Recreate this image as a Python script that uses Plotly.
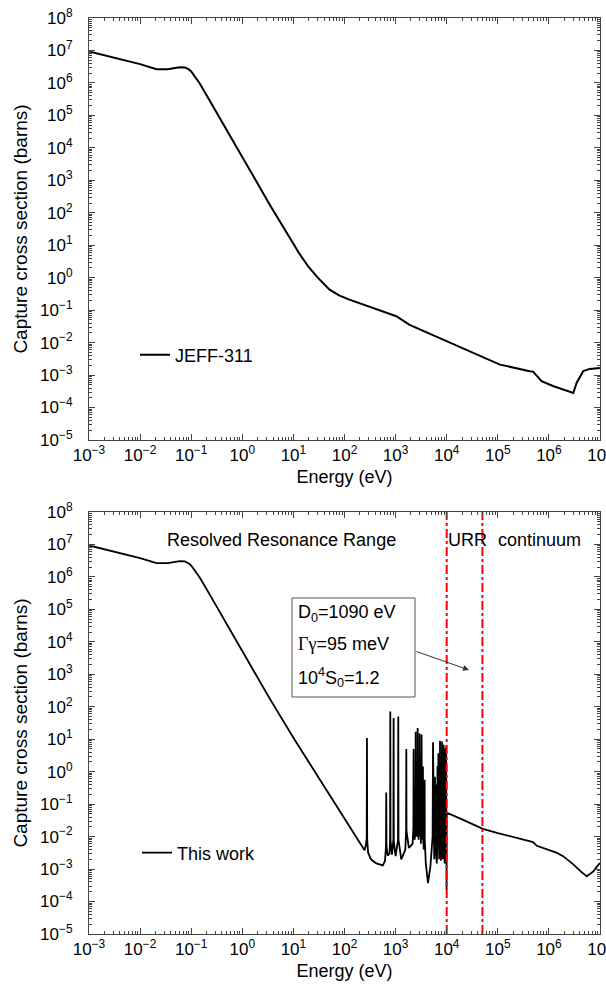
import plotly.graph_objects as go
from plotly.subplots import make_subplots

# ---------------- data ----------------
# JEFF-311 evaluated capture cross section (top panel)
E_jeff = [1e-3, 5e-3, 1e-2, 2.1e-2, 2.8e-2, 3.5e-2, 4.5e-2, 6e-2, 7.5e-2, 9e-2, 0.1, 0.12, 0.146, 0.2, 0.3, 0.5,
          1, 2, 3.4, 10, 13.1, 20, 30, 51, 65, 80, 125, 300, 1030, 1880, 9860,
          3.8e4, 1.1e5, 4.2e5, 4.9e5, 7.2e5, 1.2e6, 3e6, 3.5e6, 4.7e6, 6.3e6, 1e7]
xs_jeff = [9.3e6, 5.0e6, 3.8e6, 2.65e6, 2.6e6, 2.65e6, 2.85e6, 3.05e6, 3.0e6, 2.6e6, 2.25e6, 1.55e6, 9.8e5, 4.2e5, 1.38e5, 3.4e4,
           5e3, 7.6e2, 1.84e2, 11.1, 5.5, 2.1, 1.0, 0.43, 0.34, 0.28, 0.21, 0.13, 0.065, 0.035, 0.011,
           4.3e-3, 2.1e-3, 1.32e-3, 1.28e-3, 6.5e-4, 4.6e-4, 2.8e-4, 5.8e-4, 1.32e-3, 1.55e-3, 1.65e-3]

# This work: thermal / 1/v part
E_low = [1e-3, 5e-3, 1e-2, 2.1e-2, 2.8e-2, 3.5e-2, 4.5e-2, 6e-2, 7.5e-2, 9e-2, 0.1, 0.12, 0.146, 0.2, 0.3, 0.5,
         1, 2, 3.4, 10, 30, 100, 200, 247]
xs_low = [9.3e6, 5.0e6, 3.8e6, 2.65e6, 2.6e6, 2.65e6, 2.85e6, 3.05e6, 3.0e6, 2.6e6, 2.25e6, 1.55e6, 9.8e5, 4.2e5, 1.38e5, 3.4e4,
          5e3, 7.6e2, 1.84e2, 11.1, 0.70, 0.035, 6.4e-3, 3.8e-3]

# This work: resolved resonance range
E_rrr = [262, 272, 275, 278, 290, 330, 420, 564, 620, 648, 656, 664, 700, 760,
         780, 787, 795, 850, 905, 914, 923, 1000, 1115, 1128, 1140, 1290, 1550,
         1605, 1620, 1635, 1820,
         2150, 2230, 2250, 2270, 2340, 2355, 2370, 2450, 2470, 2490,
         2580, 2600, 2620, 2680, 2700, 2720, 2820, 2850, 2880, 2930, 2950, 2970,
         3030, 3050, 3070, 3130, 3150, 3170, 3210, 3230, 3250, 3290, 3300, 3315,
         3410, 3430, 3450, 3560, 3680, 3700, 3720, 3900, 4300, 4800,
         5300, 5400, 5500, 5580, 5600, 5620, 5700, 5850, 5900, 5950, 6080, 6100, 6120,
         6400, 6580, 6600, 6620, 6800, 6870, 6940, 6980, 7000, 7020, 7150,
         7330, 7400, 7470, 7580, 7600, 7620, 7750, 7880, 7900, 7920,
         8020, 8100, 8180, 8280, 8300, 8320, 8400, 8530, 8550, 8570,
         8650, 8730, 8810, 8880, 8900, 8920, 9150, 9280, 9300, 9320,
         9450, 9540, 9640, 9730, 9750, 9770, 9830, 9850, 9870, 9950]
xs_rrr = [5.5e-3, 9e-3, 11, 8e-3, 3.2e-3, 2.0e-3, 1.5e-3, 1.3e-3, 1.8e-3, 5e-3, 0.23, 5e-3, 2.6e-3, 3e-3,
          8e-3, 72, 8e-3, 2.8e-3, 8e-3, 45, 7e-3, 2.5e-3, 8e-3, 50, 8e-3, 2e-3, 4e-3,
          1.5e-2, 5, 1.5e-2, 4.5e-3,
          6e-3, 2e-2, 5, 1.5e-2, 8e-3, 0.3, 8e-3, 3e-2, 17, 2e-2,
          1e-2, 2, 1e-2, 3e-2, 22, 2e-2, 8e-3, 0.8, 1e-2, 2e-2, 15, 2e-2,
          1e-2, 3, 1e-2, 6e-3, 0.5, 8e-3, 2e-2, 14, 2e-2, 8e-3, 0.4, 8e-3,
          1.5e-2, 1.45, 1e-2, 4e-3, 1e-2, 0.56, 8e-3, 1.5e-3, 3.7e-4, 1.2e-3,
          1e-2, 8, 8e-3, 4e-3, 0.2, 4e-3, 2e-3, 8e-3, 0.7, 6e-3, 4e-3, 0.4, 4e-3,
          1.5e-3, 6e-3, 1.5, 6e-3, 8e-3, 3.7, 6e-3, 5e-3, 0.5, 4e-3, 2e-3,
          1.5e-2, 9, 1e-2, 6e-3, 2, 6e-3, 1.8e-3, 8e-3, 4, 8e-3,
          1.5e-2, 8.5, 1e-2, 5e-3, 1, 4e-3, 2e-3, 8e-3, 3, 8e-3,
          1e-2, 6.8, 8e-3, 6e-3, 2, 5e-3, 1.5e-3, 8e-3, 4, 6e-3,
          8e-3, 5, 5e-3, 6e-3, 6, 4e-3, 3e-3, 1, 2e-3, 2.3e-4]

# This work: unresolved resonance range and continuum
E_urr = [1e4, 2e4, 5.1e4, 1e5, 3e5, 4.9e5, 5.8e5, 9e5, 1.4e6, 1.9e6, 3e6, 4.3e6, 5.5e6, 7.4e6, 1e7]
xs_urr = [5.5e-2, 3.4e-2, 1.74e-2, 1.29e-2, 8.1e-3, 6.8e-3, 5.2e-3, 4e-3, 3.2e-3, 2.5e-3, 1.4e-3, 8.2e-4, 6e-4, 8.5e-4, 1.55e-3]

# range boundaries (eV): RRR/URR and URR/continuum
E_bounds = [1e4, 5e4]
y_span = [1e-5, 1e8]

x_exps = list(range(-3, 8))
y_exps = list(range(-5, 9))

assert len(E_rrr) == len(xs_rrr)

# ---------------- figure ----------------
FONT = "Liberation Sans, Arial, Helvetica, sans-serif"
AX = "#444"

def sup(e):
    return "10<sup>" + (str(e) if e >= 0 else "\u2212" + str(-e)) + "</sup>"

x_tickvals = [10.0 ** e for e in x_exps]
x_ticktext = [sup(e) for e in x_exps]
y_tickvals = [10.0 ** e for e in y_exps]
y_ticktext = [sup(e) for e in y_exps]
x_minor = [m * 10.0 ** e for e in x_exps[:-1] for m in range(2, 10)]
y_minor = [m * 10.0 ** e for e in y_exps[:-1] for m in range(2, 10)]

fig = make_subplots(rows=2, cols=1)

E_work = E_low + E_rrr + E_urr
xs_work = xs_low + xs_rrr + xs_urr

fig.add_trace(go.Scatter(x=E_jeff, y=xs_jeff, mode="lines", name="JEFF-311",
                         line=dict(color="black", width=2), legend="legend"), row=1, col=1)
fig.add_trace(go.Scatter(x=E_work, y=xs_work, mode="lines", name="This work",
                         line=dict(color="black", width=1.8), legend="legend2"), row=2, col=1)
for eb in E_bounds:
    fig.add_trace(go.Scatter(x=[eb, eb], y=y_span, mode="lines", showlegend=False,
                             line=dict(color="red", width=2, dash="dashdot")), row=2, col=1)

common_x = dict(type="log", range=[-3, 7], tickmode="array", tickvals=x_tickvals, ticktext=x_ticktext,
                showline=True, linecolor=AX, linewidth=1, mirror="ticks", ticks="inside", ticklen=6,
                tickcolor=AX, showgrid=False, zeroline=False, ticklabeloverflow="allow",
                tickfont=dict(family=FONT, size=17, color="black"),
                minor=dict(tickvals=x_minor, ticks="inside", ticklen=3, tickcolor=AX, showgrid=False),
                title=dict(text="Energy (eV)", font=dict(family=FONT, size=18, color="black"), standoff=5))
common_y = dict(type="log", range=[-5, 8], tickmode="array", tickvals=y_tickvals, ticktext=y_ticktext,
                showline=True, linecolor=AX, linewidth=1, mirror="ticks", ticks="inside", ticklen=6,
                tickcolor=AX, showgrid=False, zeroline=False, ticklabelstandoff=12,
                tickfont=dict(family=FONT, size=17, color="black"),
                minor=dict(tickvals=y_minor, ticks="inside", ticklen=3, tickcolor=AX, showgrid=False),
                title=dict(text="Capture cross section (barns)", font=dict(family=FONT, size=19, color="black"), standoff=7))

fig.update_xaxes(**common_x)
fig.update_yaxes(**common_y)
fig.update_layout(
    xaxis=dict(domain=[0, 1]), xaxis2=dict(domain=[0, 1]),
    yaxis=dict(domain=[0.5393, 1.0]), yaxis2=dict(domain=[0.0, 0.4607]),
)

W, H = 606, 986
L, R, T, B = 89, 6, 18, 52
def px(x):
    return (x - L) / (W - L - R)
def py(y):
    return (H - B - y) / (H - T - B)

ann_font = dict(family=FONT, size=18, color="black")
annotations = [
    dict(text="Resolved Resonance Range", x=px(281), y=py(540), xanchor="center", yanchor="middle"),
    dict(text="URR", x=px(446), y=py(540), xanchor="left", yanchor="middle"),
    dict(text="continuum", x=px(496), y=py(540), xanchor="left", yanchor="middle"),
    dict(text="D<sub>0</sub>=1090 eV", x=px(296), y=py(613), xanchor="left", yanchor="middle"),
    dict(text="<span style='font-family:Liberation Serif'>\u0393\u03b3</span>=95 meV", x=px(296), y=py(644), xanchor="left", yanchor="middle"),
    dict(text="10<sup>4</sup>S<sub>0</sub>=1.2", x=px(296), y=py(677), xanchor="left", yanchor="middle"),
]
for a in annotations:
    a.update(xref="paper", yref="paper", showarrow=False, font=ann_font)
annotations.append(dict(text="", x=px(469), y=py(670), xref="paper", yref="paper", showarrow=True,
                        ax=-54, ay=-19, arrowhead=2, arrowsize=1.2, arrowwidth=1, arrowcolor="#333"))

fig.update_layout(
    width=W, height=H, margin=dict(l=L, r=R, t=T, b=B, autoexpand=False),
    paper_bgcolor="white", plot_bgcolor="white",
    annotations=annotations,
    shapes=[dict(type="rect", xref="paper", yref="paper", x0=px(292), x1=px(415), y0=py(697), y1=py(598),
                 line=dict(color="#555", width=1), fillcolor="rgba(0,0,0,0)")],
    legend=dict(x=px(135), y=py(355), xanchor="left", yanchor="middle", bgcolor="rgba(0,0,0,0)",
                font=dict(family=FONT, size=18, color="black")),
    legend2=dict(x=px(137), y=py(853), xanchor="left", yanchor="middle", bgcolor="rgba(0,0,0,0)",
                 font=dict(family=FONT, size=18, color="black")),
)

fig.write_html("out.html")
